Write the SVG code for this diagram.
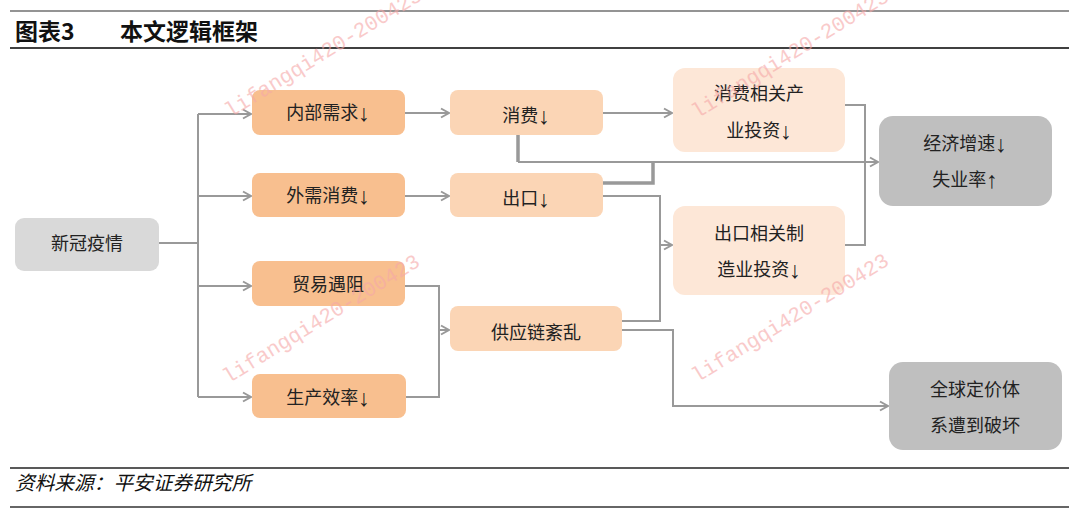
<svg xmlns="http://www.w3.org/2000/svg" width="1080" height="522" viewBox="0 0 1080 522">
<style>
.t{font-family:"Liberation Sans","Noto Sans CJK SC",sans-serif;font-size:18px;fill:#222;text-anchor:middle;dominant-baseline:central}
.ar{font-size:23px}
.h{font-family:"Noto Sans CJK SC","Liberation Sans",sans-serif;font-size:23px;font-weight:bold;fill:#111}
.src{font-family:"Noto Sans CJK SC",sans-serif;font-size:19.7px;font-style:italic;fill:#111}
.wm{font-family:"Liberation Mono",monospace;font-size:21px;fill:#f6a8a8;opacity:0.6}
.c1{fill:#f8bf8f}.c2{fill:#fbd5b5}.c3{fill:#fde7d7}.g1{fill:#d9d9d9}.g2{fill:#bfbfbf}
.ln{fill:none;stroke:#999;stroke-width:2}
.lt{fill:none;stroke:#999;stroke-width:3.5}
</style>
<defs>
<marker id="a" markerUnits="userSpaceOnUse" markerWidth="12" markerHeight="12" refX="10" refY="6" orient="auto">
<path d="M2,1.5 L10,6 L2,10.5" fill="none" stroke="#999" stroke-width="2"/>
</marker>
</defs>
<rect width="1080" height="522" fill="#fff"/>
<g id="header">
<line x1="10" y1="11" x2="1069" y2="11" stroke="#707070" stroke-width="1.6"/>
<text x="15" y="40" class="h">图表3</text>
<text x="120" y="40" class="h">本文逻辑框架</text>
<line x1="10" y1="48" x2="1069" y2="48" stroke="#000" stroke-width="1.6"/>
</g>
<g id="connectors">
<path class="ln" d="M158,243 H198"/>
<path class="ln" d="M198,114 V397"/>
<path class="ln" d="M198,114 H251" marker-end="url(#a)"/>
<path class="ln" d="M198,196 H251" marker-end="url(#a)"/>
<path class="ln" d="M198,286 H251" marker-end="url(#a)"/>
<path class="ln" d="M198,397 H251" marker-end="url(#a)"/>
<path class="ln" d="M405,113 H449" marker-end="url(#a)"/>
<path class="ln" d="M405,196 H449" marker-end="url(#a)"/>
<path class="ln" d="M405,286 H439 V397 H405"/>
<path class="ln" d="M439,330 H449" marker-end="url(#a)"/>
<path class="ln" d="M603,113 H672" marker-end="url(#a)"/>
<path class="lt" d="M518,135 V162"/>
<path class="ln" d="M518,162 H878" marker-end="url(#a)"/>
<path class="lt" d="M603,183 H653 V162"/>
<path class="ln" d="M603,196 H660 V321 H622"/>
<path class="ln" d="M660,245 H672" marker-end="url(#a)"/>
<path class="ln" d="M845,105 H865 V245 H845"/>
<path class="ln" d="M622,330 H673 V406 H888" marker-end="url(#a)"/>
</g>
<g id="n1"><rect x="15" y="218" width="144" height="53" rx="9" class="g1"/><text x="87" y="244" class="t">新冠疫情</text></g>
<g id="n2"><rect x="252" y="90" width="153" height="45" rx="8" class="c1"/><text x="328" y="113" class="t">内部需求<tspan class="ar">↓</tspan></text></g>
<g id="n3"><rect x="252" y="173" width="153" height="44" rx="8" class="c1"/><text x="328" y="196" class="t">外需消费<tspan class="ar">↓</tspan></text></g>
<g id="n4"><rect x="252" y="261" width="153" height="45" rx="8" class="c1"/><text x="328" y="285" class="t">贸易遇阻</text></g>
<g id="n5"><rect x="252" y="374" width="154" height="44" rx="8" class="c1"/><text x="328" y="398" class="t">生产效率<tspan class="ar">↓</tspan></text></g>
<g id="n6"><rect x="450" y="90" width="153" height="45" rx="8" class="c2"/><text x="526" y="116" class="t">消费<tspan class="ar">↓</tspan></text></g>
<g id="n7"><rect x="450" y="173" width="153" height="44" rx="8" class="c2"/><text x="526" y="199" class="t">出口<tspan class="ar">↓</tspan></text></g>
<g id="n8"><rect x="450" y="306" width="172" height="45" rx="8" class="c2"/><text x="536" y="333" class="t">供应链紊乱</text></g>
<g id="n9"><rect x="673" y="68" width="172" height="84" rx="12" class="c3"/><text x="759" y="94" class="t">消费相关产</text><text x="759" y="131" class="t">业投资<tspan class="ar">↓</tspan></text></g>
<g id="n10"><rect x="673" y="206" width="172" height="89" rx="12" class="c3"/><text x="759" y="234" class="t">出口相关制</text><text x="759" y="270" class="t">造业投资<tspan class="ar">↓</tspan></text></g>
<g id="n11"><rect x="879" y="116" width="173" height="90" rx="14" class="g2"/><text x="965" y="144" class="t">经济增速<tspan class="ar">↓</tspan></text><text x="965" y="180" class="t">失业率<tspan class="ar">↑</tspan></text></g>
<g id="n12"><rect x="889" y="362" width="173" height="88" rx="14" class="g2"/><text x="975" y="390" class="t">全球定价体</text><text x="975" y="426" class="t">系遭到破坏</text></g>
<g id="footer">
<line x1="10" y1="468" x2="1069" y2="468" stroke="#222" stroke-width="1.4"/>
<text x="15" y="490" class="src">资料来源：平安证券研究所</text>
<line x1="10" y1="507" x2="1069" y2="507" stroke="#666" stroke-width="1.8"/>
</g>
<g id="watermarks">
<text class="wm" transform="translate(230,118) rotate(-31.6)">lifangqi420-200423</text>
<text class="wm" transform="translate(697,119) rotate(-31.6)">lifangqi420-200423</text>
<text class="wm" transform="translate(228,384) rotate(-31.6)">lifangqi420-200423</text>
<text class="wm" transform="translate(697,383) rotate(-31.6)">lifangqi420-200423</text>
</g>
</svg>
